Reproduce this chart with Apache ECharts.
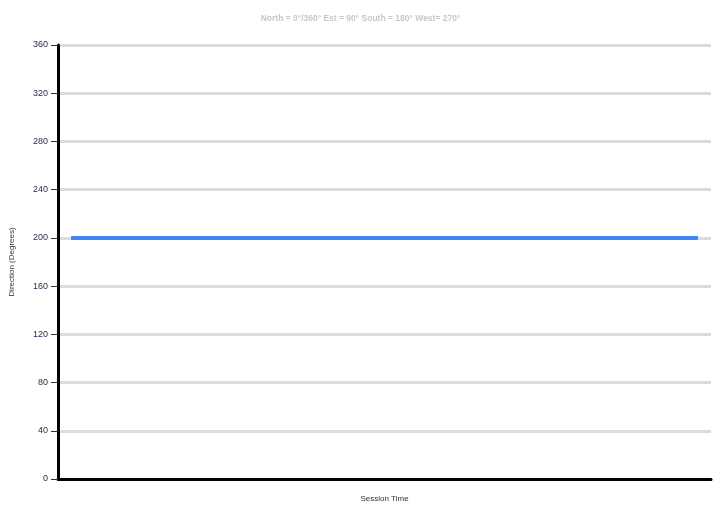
<!DOCTYPE html>
<html><head><meta charset="utf-8">
<script src="https://cdn.jsdelivr.net/npm/echarts@6/dist/echarts.min.js"></script>
<style>html,body{margin:0;padding:0;background:#fff}#c{width:721px;height:508px}</style>
</head><body><div id="c"></div>
<script>
const titleText = 'North = 0°/360° Est = 90° South = 180° West= 270°';
const categories = ['1','2','3','4','5','6','7','8','9','10','11','12','13','14','15','16','17','18','19','20','21','22','23','24','25'];
const directionValues = [200,200,200,200,200,200,200,200,200,200,200,200,200,200,200,200,200,200,200,200,200,200,200,200,200];
const yTicks = {min: 0, max: 360, interval: 40};

const chart = echarts.init(document.getElementById('c'), null, {renderer: 'canvas'});
chart.setOption({
  animation: false,
  title: {
    text: titleText, left: 'center', top: 9,
    textStyle: {fontFamily: 'Arial, Liberation Sans', fontSize: 8.5, fontWeight: 'bold', color: '#c8c8c8'}
  },
  grid: {left: 57, right: 10, top: 45, bottom: 24, containLabel: false},
  xAxis: {
    type: 'category', data: categories, boundaryGap: true,
    name: 'Session Time', nameLocation: 'middle', nameGap: 16,
    nameTextStyle: {fontFamily: 'Arial, Liberation Sans', fontSize: 8, color: '#333'},
    axisLine: {show: true, lineStyle: {color: '#000', width: 3}},
    axisTick: {show: false}, axisLabel: {show: false}, splitLine: {show: false}
  },
  yAxis: {
    type: 'value', min: yTicks.min, max: yTicks.max, interval: yTicks.interval,
    name: 'Direction (Degrees)', nameLocation: 'middle', nameGap: 42, nameRotate: 90,
    nameTextStyle: {fontFamily: 'Arial, Liberation Sans', fontSize: 8, color: '#333'},
    axisLine: {show: true, lineStyle: {color: '#000', width: 3}},
    axisTick: {show: true, length: 7, lineStyle: {color: '#333', width: 1}},
    axisLabel: {fontFamily: 'Arial, Liberation Sans', fontSize: 9, color: '#2a2a50', margin: 10},
    splitLine: {show: true, lineStyle: {color: '#dcdcdc', width: 3}}
  },
  series: [{
    type: 'line', data: directionValues, showSymbol: false, symbol: 'none',
    lineStyle: {color: '#4285f4', width: 4}
  }]
});
</script></body></html>
